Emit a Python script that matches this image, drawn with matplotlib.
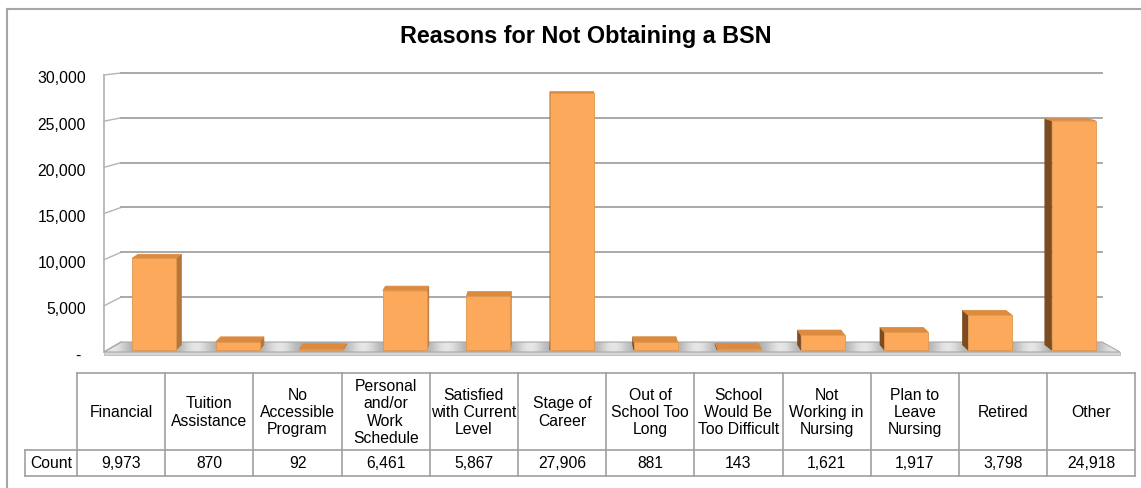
import matplotlib
matplotlib.use('Agg')
import matplotlib.pyplot as plt
import numpy as np
from matplotlib.patches import Polygon, Rectangle

plt.rcParams['font.family'] = ['Liberation Sans', 'DejaVu Sans']

# data
categories = ['Financial', 'Tuition\nAssistance', 'No\nAccessible\nProgram',
              'Personal\nand/or\nWork\nSchedule', 'Satisfied\nwith Current\nLevel',
              'Stage of\nCareer', 'Out of\nSchool Too\nLong', 'School\nWould Be\nToo Difficult',
              'Not\nWorking in\nNursing', 'Plan to\nLeave\nNursing', 'Retired', 'Other']
counts = [9973, 870, 92, 6461, 5867, 27906, 881, 143, 1621, 1917, 3798, 24918]
y_ticks = [0, 5000, 10000, 15000, 20000, 25000, 30000]
y_tick_labels = ['-', '5,000', '10,000', '15,000', '20,000', '25,000', '30,000']
title = 'Reasons for Not Obtaining a BSN'
row_label = 'Count'

W, H = 1141, 489
fig = plt.figure(figsize=(W / 100, H / 100), dpi=100)

FRONT = '#fca95b'
TOP = '#dc8a3e'
SIDE_R = '#b7763a'
SIDE_L = '#7c4b1f'
EDGE = '#e0974f'
GRID = '#a3a3a3'
LINE = '#a0a0a0'
FS = 11.3


def frect(l, t, r, b):
    return [l / W, 1 - b / H, (r - l) / W, (b - t) / H]


# background axes in pixel units (frame, title, table)
bg = fig.add_axes([0, 0, 1, 1])
bg.set_xlim(0, W)
bg.set_ylim(H, 0)
bg.axis('off')

# chart axes: x = category index, y = count
CAT_PX = 83.6
VAL_PX = 0.0092
X0PX, Y0PX = 154, 351
ax = fig.add_axes(frect(90, 60, 1135, 370))
ax.set_xlim((90 - X0PX) / CAT_PX, (1135 - X0PX) / CAT_PX)
ax.set_ylim((Y0PX - 370) / VAL_PX, (Y0PX - 60) / VAL_PX)
ax.axis('off')


def px2x(px):
    return (px - X0PX) / CAT_PX


def px2v(py):
    return (Y0PX - py) / VAL_PX


def dy(p):
    return p / VAL_PX


top_v = y_ticks[-1]
fx0, fx1 = px2x(104), px2x(1120)
bx0, bx1 = px2x(121), px2x(1102)


def front_v(v):
    return -dy(2) + v * (277 / 276)


def back_v(v):
    return dy(8) + v * (269 / 276)


# floor with soft highlights between the bars
floor = [(fx0, front_v(0)), (fx1, front_v(0)), (bx1, back_v(0)), (bx0, back_v(0))]
xs = np.linspace(fx0, fx1, 800)
c = (np.cos(2 * np.pi * (xs - 0.5)) + 1) / 2
shade = 0.66 + 0.24 * c ** 3
img = np.tile(shade, (2, 1))
im = ax.imshow(img, cmap='gray', vmin=0, vmax=1, aspect='auto',
               extent=(fx0, fx1, front_v(0), back_v(0)), origin='lower', zorder=1,
               interpolation='bilinear')
fpoly = Polygon(floor, closed=True, fc='none', ec='#a8a8a8', lw=0.8, zorder=2)
ax.add_patch(fpoly)
im.set_clip_path(fpoly)
slab = Polygon([(fx0, front_v(0)), (fx1, front_v(0)), (fx1, front_v(0) - dy(2.5)),
                (fx0, front_v(0) - dy(2.5))], closed=True, fc='#d6d6d6', ec='#b8b8b8',
               lw=0.6, zorder=2)
ax.add_patch(slab)

# walls and gridlines
ax.plot([fx0, fx0], [front_v(0), front_v(top_v)], color='#b0b0b0', lw=1.2, zorder=1)
for v, lab in zip(y_ticks, y_tick_labels):
    ax.plot([fx0, bx0], [front_v(v), back_v(v)], color='#b4b4b4', lw=1.0, zorder=1)
    if v > 0:
        ax.plot([bx0, bx1], [back_v(v), back_v(v)], color=GRID, lw=1.3, zorder=1)
    if lab == '-':
        ax.text(px2x(78), front_v(v) - dy(3), lab, ha='center', va='center',
                fontsize=FS, clip_on=False)
    else:
        ax.text(px2x(86), front_v(v) - dy(3), lab, ha='right', va='center',
                fontsize=FS, clip_on=False)

# 3D-looking bars
bw = 44 / CAT_PX
cxp, cyp, kb = px2x(570), px2v(-25), 0.986


def back(x, y):
    return cxp + (x - cxp) * kb, cyp + (y - cyp) * kb


for i, v in enumerate(counts):
    xl, xr = i - bw / 2, i + bw / 2
    if i < cxp:
        side = [(xr, 0), (xr, v), back(xr, v), back(xr, 0)]
        sc = SIDE_R
    else:
        side = [(xl, 0), (xl, v), back(xl, v), back(xl, 0)]
        sc = SIDE_L
    ax.add_patch(Polygon(side, closed=True, fc=sc, ec=sc, lw=0.5, zorder=3))
    topf = [(xl, v), (xr, v), back(xr, v), back(xl, v)]
    ax.add_patch(Polygon(topf, closed=True, fc=TOP, ec=TOP, lw=0.5, zorder=3))
    ax.add_patch(Rectangle((xl, 0), bw, v, fc=FRONT, ec=EDGE, lw=0.6, zorder=4))

# frame and title
bg.plot([7, 7], [10, H + 5], color='#a6a6a6', lw=1.5)
bg.plot([7, W + 5], [10, 10], color='#a6a6a6', lw=1.5)
bg.text(586, 37, title, ha='center', va='center', fontsize=16.8, fontweight='bold')

# data table
col_w = 88.2
edges = 77 + col_w * np.arange(len(categories) + 1)
t_top, t_mid, t_bot = 374, 451, 477
bg.plot([edges[0], edges[-1]], [t_top, t_top], color=LINE, lw=1.2)
bg.plot([25, edges[-1]], [t_mid, t_mid], color=LINE, lw=1.2)
bg.plot([25, edges[-1]], [t_bot, t_bot], color=LINE, lw=1.2)
bg.plot([25, 25], [t_mid, t_bot], color=LINE, lw=1.2)
for e in edges:
    bg.plot([e, e], [t_top, t_bot], color=LINE, lw=1.2)
bg.text(51, (t_mid + t_bot) / 2, row_label, ha='center', va='center', fontsize=FS)
for k, (cat, v) in enumerate(zip(categories, counts)):
    cx = (edges[k] + edges[k + 1]) / 2
    bg.text(cx, (t_top + t_mid) / 2, cat, ha='center', va='center', fontsize=FS,
            linespacing=1.17, multialignment='center')
    bg.text(cx, (t_mid + t_bot) / 2, f'{v:,}', ha='center', va='center', fontsize=FS)

fig.savefig('out.png', dpi=100)
